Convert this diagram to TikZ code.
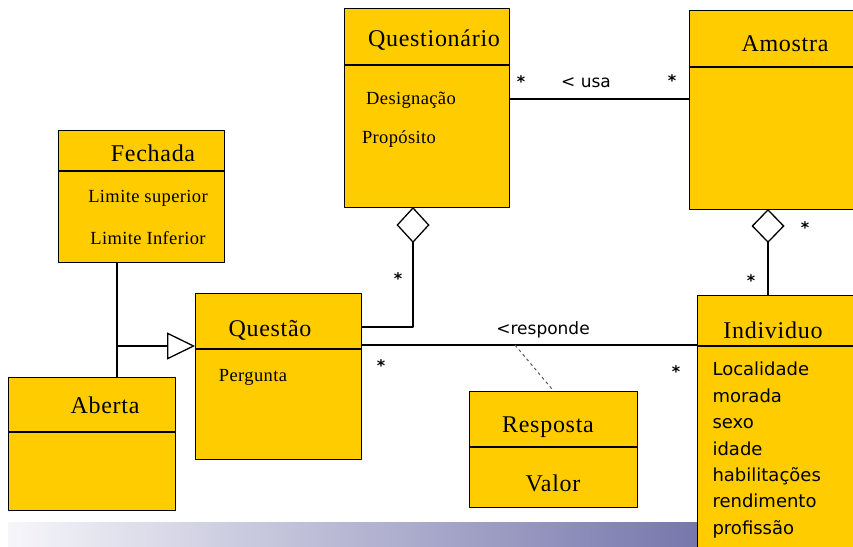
\documentclass[tikz,border=0pt]{standalone}
\usepackage{fontspec}
\setmainfont{Liberation Serif}
\newfontfamily\comicfont{DejaVu Sans}
\usetikzlibrary{arrows.meta}
\definecolor{classyellow}{RGB}{255,204,0}
\definecolor{barblue}{RGB}{118,118,172}
\definecolor{barlight}{RGB}{246,246,250}

\begin{document}
\begin{tikzpicture}[x=1pt, y=-1pt, line join=round,
	cls/.style={draw, fill=classyellow, line width=1.3pt, anchor=north west, inner sep=0pt},
	ttl/.style={font=\fontsize{24}{27}\selectfont\addfontfeature{LetterSpace=3}},
	attr/.style={font=\fontsize{18.5}{22}\selectfont\addfontfeature{LetterSpace=2}},
	note/.style={font=\comicfont\fontsize{17}{20}\selectfont},
	star/.style={font=\comicfont\bfseries\fontsize{16}{18}\selectfont},
	link/.style={line width=1.3pt}]
	\useasboundingbox (0,0) rectangle (853,546);
	% band at the bottom
	\shade[left color=barlight, right color=barblue] (8,522) rectangle (700,546);

	% classes
	\node[cls, minimum width=165pt, minimum height=199pt] (quest) at (344,8) {};
	\draw[link] ([yshift=-57pt]quest.north west) -- ([yshift=-57pt]quest.north east);
	\node[ttl] (questT) at (434,40) {Questionário};
	\node[attr] (questA1) at (411,100) {Designação};
	\node[attr] (questA2) at (399,139) {Propósito};

	\node[cls, minimum width=175pt, minimum height=199pt] (amostra) at (689,10) {};
	\draw[link] ([yshift=-57pt]amostra.north west) -- ([yshift=-57pt]amostra.north east);
	\node[ttl] (amostraT) at (785,44) {Amostra};

	\node[cls, minimum width=166pt, minimum height=132pt] (fechada) at (58,130) {};
	\draw[link] ([yshift=-41pt]fechada.north west) -- ([yshift=-41pt]fechada.north east);
	\node[ttl] (fechadaT) at (153,153) {Fechada};
	\node[attr] (fechadaA1) at (148,198) {Limite superior};
	\node[attr] (fechadaA2) at (148,238) {Limite Inferior};

	\node[cls, minimum width=167pt, minimum height=133pt] (aberta) at (8,377) {};
	\draw[link] ([yshift=-55pt]aberta.north west) -- ([yshift=-55pt]aberta.north east);
	\node[ttl] (abertaT) at (105,405) {Aberta};

	\node[cls, minimum width=166pt, minimum height=166pt] (questao) at (195,293) {};
	\draw[link] ([yshift=-56pt]questao.north west) -- ([yshift=-56pt]questao.north east);
	\node[ttl] (questaoT) at (270,330) {Questão};
	\node[attr] (questaoA) at (253,377) {Pergunta};

	\node[cls, minimum width=168pt, minimum height=116pt] (resposta) at (469,391) {};
	\draw[link] ([yshift=-56pt]resposta.north west) -- ([yshift=-56pt]resposta.north east);
	\node[ttl] (respostaT) at (548,427) {Resposta};
	\node[ttl] (respostaA) at (553,483) {Valor};

	\node[cls, minimum width=170pt, minimum height=260pt] (indiv) at (697,295) {};
	\draw[link] ([yshift=-51pt]indiv.north west) -- ([yshift=-51pt]indiv.north east);
	\node[ttl] (indivT) at (773,330) {Individuo};
	\foreach \a [count=\i] in {Localidade, morada, sexo, idade, habilitações, rendimento, profissão}
		\node[note, font=\comicfont\fontsize{18}{20}\selectfont, anchor=base west] (indivA\i) at (709,{349.5+26.4*\i}) {\a};

	% usa
	\coordinate (usaL) at (509,99);
	\draw[link] (usaL) -- (usaL -| amostra.west);
	\node[star] at (521,82) {*};
	\node[note] at (586,83) {< usa};
	\node[star] at (672,81) {*};

	% aggregations
	\coordinate (aggQ) at (413,207);
	\coordinate (aggQend) at (361,327);
	\draw[link, {Diamond[open, length=36pt, width=33pt]}-] (aggQ) |- (aggQend);
	\node[star] at (398,279) {*};

	\coordinate (aggA) at (768,209);
	\draw[link, {Diamond[open, length=34pt, width=33pt]}-] (aggA) -- (aggA |- indiv.north);
	\node[star] at (805,228) {*};
	\node[star] at (751,281) {*};

	% generalisation
	\coordinate (gen) at (117,346);
	\draw[link] (gen |- fechada.south) -- (gen |- aberta.north);
	\draw[link, -{Triangle[open, length=28pt, width=27pt]}] (gen) -- (gen -| questao.west);

	% responde
	\coordinate (resp) at (361,345);
	\coordinate (respMid) at (515,345);
	\draw[link] (resp) -- (resp -| indiv.west);
	\draw[dashed, gray!70!black, line width=1pt] (respMid) -- (resposta.north);
	\node[note] at (543,330) {<responde};
	\node[star] at (381,366) {*};
	\node[star] at (676,372) {*};
\end{tikzpicture}
\end{document}
